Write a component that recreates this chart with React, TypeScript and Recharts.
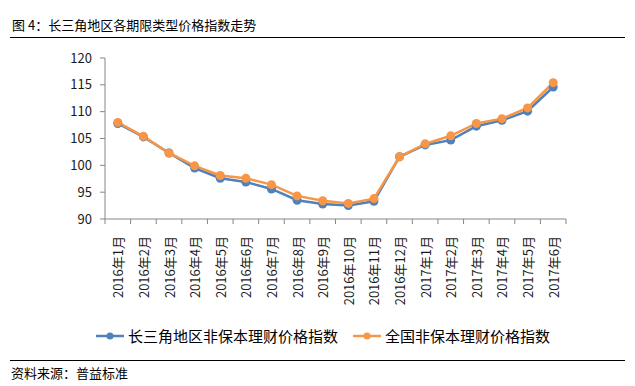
import React from "react";
import { LineChart, Line, XAxis, YAxis } from "recharts";

const months = [
  "2016年1月", "2016年2月", "2016年3月", "2016年4月", "2016年5月", "2016年6月",
  "2016年7月", "2016年8月", "2016年9月", "2016年10月", "2016年11月", "2016年12月",
  "2017年1月", "2017年2月", "2017年3月", "2017年4月", "2017年5月", "2017年6月",
];

const yrdIndex = [
  107.8, 105.3, 102.3, 99.5, 97.6, 96.9, 95.6, 93.5, 92.8, 92.5, 93.3, 101.6,
  103.8, 104.7, 107.3, 108.4, 110.1, 114.6,
];

const nationalIndex = [
  108.0, 105.4, 102.3, 99.9, 98.1, 97.6, 96.4, 94.3, 93.4, 92.9, 93.8, 101.6,
  104.0, 105.5, 107.8, 108.7, 110.7, 115.4,
];

const yTicks = [90, 95, 100, 105, 110, 115, 120];

const seriesNames = ["长三角地区非保本理财价格指数", "全国非保本理财价格指数"];
const seriesColors = ["#4F81BD", "#F79646"];

const data = months.map((m, i) => ({
  month: m,
  yrd: yrdIndex[i],
  national: nationalIndex[i],
}));

const FONT = '"Noto Sans CJK SC", "Microsoft YaHei", sans-serif';
const CHART_W = 635;
const Y_W = 105;
const RIGHT = 69;
const BAND = (CHART_W - Y_W - RIGHT) / months.length;
const AXIS_COLOR = "#868686";

const MonthTick = (props: any) => {
  const { x, y, payload, index } = props;
  const last = index === months.length - 1;
  return (
    <g>
      <line x1={x - BAND / 2} x2={x - BAND / 2} y1={y} y2={y + 5} stroke={AXIS_COLOR} />
      {last && (
        <line x1={x + BAND / 2} x2={x + BAND / 2} y1={y} y2={y + 5} stroke={AXIS_COLOR} />
      )}
      <text
        x={x}
        y={y + 17}
        transform={`rotate(-90, ${x}, ${y + 17})`}
        textAnchor="end"
        dominantBaseline="central"
        fontSize={13}
        fontFamily={FONT}
        fill="#1a1a1a"
      >
        {payload.value}
      </text>
    </g>
  );
};

const LegendItem = ({ name, color }: { name: string; color: string }) => (
  <div style={{ display: "flex", alignItems: "center", marginRight: 15 }}>
    <svg width={28} height={10}>
      <line x1={0} x2={28} y1={5} y2={5} stroke={color} strokeWidth={2.5} />
      <circle cx={14} cy={5} r={3.5} fill={color} />
    </svg>
    <span style={{ marginLeft: 4 }}>{name}</span>
  </div>
);

export default function App() {
  return (
    <div
      style={{
        position: "absolute",
        left: 0,
        top: 0,
        width: 635,
        height: 386,
        background: "#fff",
        fontFamily: FONT,
        color: "#000",
      }}
    >
      <div style={{ position: "absolute", left: 12, top: 17, fontSize: 13, lineHeight: "16px" }}>
        图 4：长三角地区各期限类型价格指数走势
      </div>
      <div style={{ position: "absolute", left: 10, top: 37, width: 615, height: 1, background: "#000" }} />

      <div style={{ position: "absolute", left: 0, top: 0 }}>
        <LineChart
          width={CHART_W}
          height={310}
          data={data}
          margin={{ top: 58, right: RIGHT, left: 0, bottom: 0 }}
        >
          <XAxis
            dataKey="month"
            scale="band"
            interval={0}
            height={91}
            tickLine={false}
            tickSize={0}
            tickMargin={0}
            axisLine={{ stroke: AXIS_COLOR }}
            tick={<MonthTick />}
          />
          <YAxis
            width={Y_W}
            domain={[90, 120]}
            ticks={yTicks}
            tickSize={5}
            tickMargin={8}
            axisLine={{ stroke: AXIS_COLOR }}
            tickLine={{ stroke: AXIS_COLOR }}
            tick={{ fontSize: 13, fontFamily: FONT, fill: "#1a1a1a" }}
          />
          <Line
            dataKey="yrd"
            name={seriesNames[0]}
            stroke={seriesColors[0]}
            strokeWidth={2.5}
            dot={{ r: 4.5, fill: seriesColors[0], stroke: "none" }}
            isAnimationActive={false}
          />
          <Line
            dataKey="national"
            name={seriesNames[1]}
            stroke={seriesColors[1]}
            strokeWidth={2.5}
            dot={{ r: 4.5, fill: seriesColors[1], stroke: "none" }}
            isAnimationActive={false}
          />
        </LineChart>
      </div>

      <div
        style={{
          position: "absolute",
          left: 96,
          top: 325,
          display: "flex",
          fontSize: 15,
          lineHeight: "22px",
          whiteSpace: "nowrap",
        }}
      >
        {seriesNames.map((n, i) => (
          <LegendItem key={n} name={n} color={seriesColors[i]} />
        ))}
      </div>

      <div style={{ position: "absolute", left: 10, top: 360, width: 615, height: 1, background: "#000" }} />
      <div style={{ position: "absolute", left: 11, top: 365, fontSize: 13, lineHeight: "16px" }}>
        资料来源：普益标准
      </div>
    </div>
  );
}
